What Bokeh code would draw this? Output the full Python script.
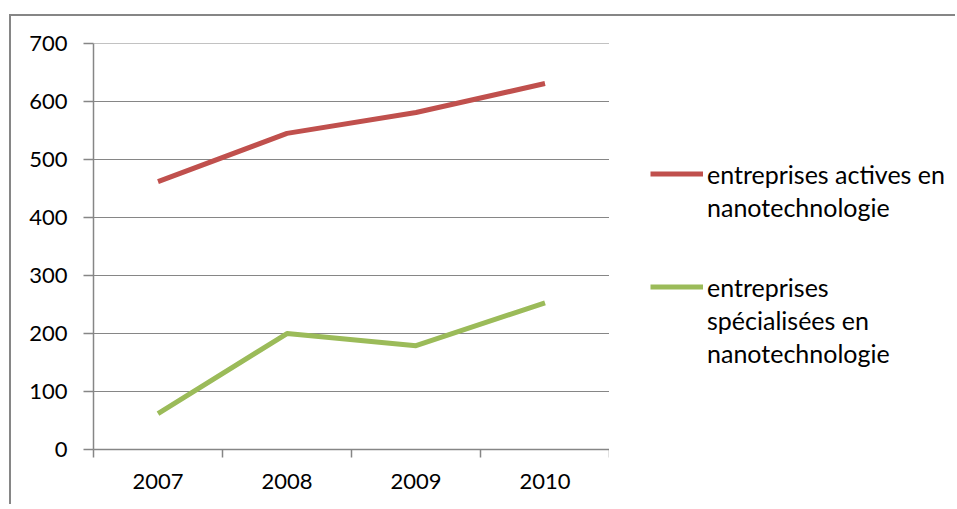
from bokeh.plotting import figure
from bokeh.models import FixedTicker, Legend, LegendItem, Range1d
from bokeh.layouts import row
from bokeh.embed import file_html
from bokeh.resources import INLINE

# ---- data ----
years = ["2007", "2008", "2009", "2010"]
actives = [462, 545, 581, 631]
specialisees = [62, 200, 179, 253]
y_ticks = [0, 100, 200, 300, 400, 500, 600, 700]
legend_lines_actives = ["entreprises actives en", "nanotechnologie"]
legend_lines_special = ["entreprises", "spécialisées en", "nanotechnologie"]

RED = "#C0504D"
GREEN = "#9BBB59"
GREY = "#868686"
FONT = "Lato"
FS = "22px"
LFS = "25px"

xs = [i + 0.5 for i in range(len(years))]
boundaries = list(range(len(years) + 1))

H = 488
p = figure(width=598, height=H, output_backend="svg", toolbar_location=None,
           x_range=Range1d(0, len(years)), y_range=Range1d(0, 700.01),
           min_border_left=82, min_border_right=0, min_border_top=27,
           min_border_bottom=H - 27 - 406)
p.outline_line_color = None
p.background_fill_color = "white"
p.border_fill_color = "white"

# y axis
p.yaxis.ticker = FixedTicker(ticks=y_ticks)
p.yaxis.axis_line_color = GREY
p.yaxis.axis_line_width = 1.5
p.yaxis.major_tick_line_color = GREY
p.yaxis.major_tick_line_width = 1.5
p.yaxis.major_tick_out = 10
p.yaxis.major_tick_in = 0
p.yaxis.minor_tick_line_color = None
p.yaxis.major_label_standoff = 16
p.yaxis.major_label_text_font = FONT
p.yaxis.major_label_text_font_size = FS
p.yaxis.major_label_text_color = "black"

# x axis: labels at category centres, tick marks between categories
p.xaxis.ticker = FixedTicker(ticks=xs, minor_ticks=boundaries)
p.xaxis.major_label_overrides = {x: y for x, y in zip(xs, years)}
p.xaxis.axis_line_color = GREY
p.xaxis.axis_line_width = 1.5
p.xaxis.major_tick_line_color = None
p.xaxis.major_tick_out = 0
p.xaxis.major_tick_in = 0
p.xaxis.minor_tick_line_color = GREY
p.xaxis.minor_tick_line_width = 1.5
p.xaxis.minor_tick_out = 8
p.xaxis.minor_tick_in = 0
p.xaxis.major_label_standoff = 16
p.xaxis.major_label_text_font = FONT
p.xaxis.major_label_text_font_size = FS
p.xaxis.major_label_text_color = "black"

p.xgrid.visible = False
p.ygrid.grid_line_color = GREY
p.ygrid.grid_line_width = 1.2

p.line(xs, actives, line_color=RED, line_width=5, line_join="round")
p.line(xs, specialisees, line_color=GREEN, line_width=5, line_join="round")

# ---- legend panel ----
W2 = 346
p2 = figure(width=W2, height=H, output_backend="svg", toolbar_location=None,
            x_range=Range1d(-2, -1), y_range=Range1d(-2, -1),
            x_axis_location=None, y_axis_location=None, min_border=0)
p2.outline_line_color = None
p2.grid.visible = False
p2.background_fill_color = "white"
p2.border_fill_color = "white"

# proxies for legend glyphs (same series, outside this panel's visible ranges)
k1 = p2.line(xs, actives, line_color=RED, line_width=5)
k2 = p2.line(xs, specialisees, line_color=GREEN, line_width=5)


def make_legend(lines, rend, loc):
    items = [LegendItem(label=lines[0], renderers=[rend])]
    items += [LegendItem(label=t, renderers=[]) for t in lines[1:]]
    return Legend(items=items, location=loc,
                  glyph_width=53, glyph_height=33, label_height=33,
                  label_standoff=4, padding=0, margin=0, spacing=0,
                  border_line_color=None, background_fill_alpha=0,
                  label_text_font=FONT, label_text_font_size=LFS,
                  label_text_color="black")


p2.add_layout(make_legend(legend_lines_actives, k1, (41, 226)))
p2.add_layout(make_legend(legend_lines_special, k2, (41, 80)))

layout = row(p, p2, margin=(14, 0, 0, 9),
             styles={"border-left": "2px solid #868686",
                     "border-top": "2px solid #868686"})

open("out.html", "w").write(file_html(layout, INLINE))
